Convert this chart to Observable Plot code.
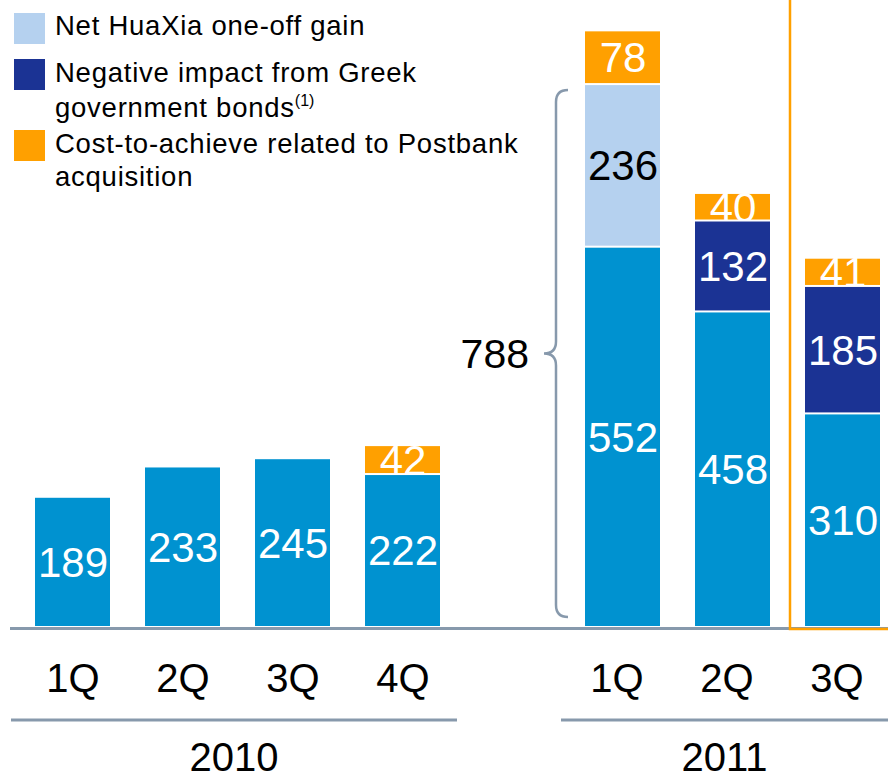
<!DOCTYPE html>
<html>
<head>
<meta charset="utf-8">
<script src="https://cdn.jsdelivr.net/npm/d3@7"></script>
<script src="https://cdn.jsdelivr.net/npm/@observablehq/plot@0.6"></script>
<style>
  html, body { margin: 0; padding: 0; background: #fff; }
  #wrap { position: relative; width: 888px; height: 780px; overflow: hidden;
          font-family: "Liberation Sans", Arial, sans-serif; }
  #chart { position: absolute; left: 0; top: 0; }
  #legend { position: absolute; left: 0; top: 0; width: 560px; height: 200px; }
  .sw { position: absolute; left: 14px; width: 31px; height: 31px; }
  .ln { position: absolute; left: 55px; font-size: 27.5px; line-height: 34px;
        letter-spacing: 0.75px; color: #000; white-space: nowrap; }
  .ln sup { font-size: 16px; letter-spacing: 0; vertical-align: 0; position: relative; top: -11px; }
</style>
</head>
<body>
<div id="wrap"><div id="chart"></div><div id="legend"></div></div>
<script>
// ---- data ----
const gapKey = "gap";
const periods = ["1Q 2010", "2Q 2010", "3Q 2010", "4Q 2010", gapKey, "1Q 2011", "2Q 2011", "3Q 2011"];
const ticks2010 = ["1Q 2010", "2Q 2010", "3Q 2010", "4Q 2010"];
const ticks2011 = ["1Q 2011", "2Q 2011", "3Q 2011"];
const years = ["2010", "2011"];
const coreValues     = [189, 233, 245, 222, null, 552, 458, 310];
const huaxiaValues   = [0,   0,   0,   0,   null, 236, 0,   0];
const greekValues    = [0,   0,   0,   0,   null, 0,   132, 185];
const postbankValues = [0,   0,   0,   42,  null, 78,  40,  41];
const seriesNames = ["Core", "Net HuaXia one-off gain",
  "Negative impact from Greek government bonds(1)",
  "Cost-to-achieve related to Postbank acquisition"];
const seriesColors = ["#0092d0", "#b5d1ef", "#1b3394", "#ffa000"];
const labelColors  = ["#ffffff", "#000000", "#ffffff", "#ffffff"];
const braceTotal = 788;          // 552 + 236
const highlightPeriod = "3Q 2011";
const yMax = 911.5;

// ---- build stacked segments ----
const seriesValues = [coreValues, huaxiaValues, greekValues, postbankValues];
const segments = [];
periods.forEach((p, i) => {
  if (p === gapKey) return;
  let base = 0;
  seriesValues.forEach((vals, s) => {
    const v = vals[i];
    if (!v) return;
    segments.push({period: p, series: s, value: v, y1: base, y2: base + v,
                   mid: base + v / 2, fill: seriesColors[s], label: labelColors[s]});
    base += v;
  });
});
const topSegs = segments.filter(d => d.series === 3);
const lowSegs = segments.filter(d => d.series !== 3);

const gray = "#8799ac";
const fontFamily = "'Liberation Sans', Arial, sans-serif";

function annotations(index, scales, values, dims) {
  const x = scales.x, y = scales.y;
  const bw = x.bandwidth ? x.bandwidth() : 75;
  const g = d3.create("svg:g").attr("font-family", fontFamily);
  // brace for 1Q 2011 core + HuaXia
  const bx = x("1Q 2011") - 29;
  const top = y(braceTotal) + 5, bot = y(0) - 11, mid = (top + bot) / 2;
  const r = 12;
  const p = d3.path();
  p.moveTo(bx + r, top);
  p.quadraticCurveTo(bx, top, bx, top + r);
  p.lineTo(bx, mid - r);
  p.quadraticCurveTo(bx, mid, bx - r, mid);
  p.quadraticCurveTo(bx, mid, bx, mid + r);
  p.lineTo(bx, bot - r);
  p.quadraticCurveTo(bx, bot, bx + r, bot);
  g.append("path").attr("d", p.toString()).attr("fill", "none")
    .attr("stroke", gray).attr("stroke-width", 2.5);
  g.append("text").attr("x", bx - r - 15).attr("y", mid).attr("dy", "0.36em")
    .attr("text-anchor", "end").attr("font-size", 41).attr("fill", "#000")
    .text(String(braceTotal));
  // year group lines + labels
  const groups = [ticks2010, ticks2011];
  const lineY = y(0) + 92;
  groups.forEach((ticks, k) => {
    const x1 = x(ticks[0]) - 24;
    const x2 = Math.min(x(ticks[ticks.length - 1]) + bw + 17, dims.width);
    g.append("line").attr("x1", x1).attr("x2", x2).attr("y1", lineY).attr("y2", lineY)
      .attr("stroke", gray).attr("stroke-width", 3);
    g.append("text").attr("x", (x1 + x2) / 2).attr("y", dims.height - 9)
      .attr("text-anchor", "middle").attr("font-size", 40).attr("fill", "#000")
      .text(years[k]);
  });
  return g.node();
}

const chart = Plot.plot({
  width: 888,
  height: 780,
  marginTop: 0,
  marginBottom: 152,
  marginLeft: 10,
  marginRight: 0,
  style: {fontFamily, background: "transparent"},
  x: {domain: periods, range: [33, 883], paddingInner: 0.318, paddingOuter: 0, axis: null},
  y: {domain: [0, yMax], axis: null},
  color: {type: "identity"},
  marks: [
    Plot.barY(topSegs, {x: "period", y1: "y1", y2: "y2", fill: "fill", insetBottom: 2}),
    Plot.text(topSegs, {x: "period", y: "mid", text: d => String(d.value), fill: "label", fontSize: 42}),
    Plot.barY(lowSegs, {x: "period", y1: "y1", y2: "y2", fill: "fill", insetBottom: 2}),
    Plot.text(lowSegs, {x: "period", y: "mid", text: d => String(d.value), fill: "label", fontSize: 42}),
    Plot.ruleY([0], {stroke: gray, strokeWidth: 3}),
    Plot.barY([{p: highlightPeriod, lo: 0, hi: yMax}], {x: "p", y1: "lo", y2: "hi", fill: "none",
      stroke: "#ffa000", strokeWidth: 2.5, insetLeft: -15, insetRight: -30, insetTop: -10, insetBottom: -1}),
    Plot.axisX(ticks2010, {tickSize: 0, tickPadding: 35, fontSize: 40, fill: "#000",
      tickFormat: d => d.split(" ")[0]}),
    Plot.axisX(ticks2011, {tickSize: 0, tickPadding: 35, fontSize: 40, fill: "#000", dx: -6,
      tickFormat: d => d.split(" ")[0]}),
    annotations
  ]
});
document.getElementById("chart").appendChild(chart);

// ---- legend (HTML overlay) ----
const legendItems = [
  {s: 1, swTop: 13, lines: [["Net HuaXia one-off gain", 36]]},
  {s: 2, swTop: 59, lines: [["Negative impact from Greek", 83], ["government bonds<sup>(1)</sup>", 118]]},
  {s: 3, swTop: 130, lines: [["Cost-to-achieve related to Postbank", 154], ["acquisition", 187]]}
];
const legend = document.getElementById("legend");
legendItems.forEach(item => {
  const sw = document.createElement("div");
  sw.className = "sw";
  sw.style.top = item.swTop + "px";
  sw.style.background = seriesColors[item.s];
  sw.title = seriesNames[item.s];
  legend.appendChild(sw);
  item.lines.forEach(([txt, baseline]) => {
    const d = document.createElement("div");
    d.className = "ln";
    d.style.top = (baseline - 26.6) + "px";
    d.innerHTML = txt;
    legend.appendChild(d);
  });
});
</script>
</body>
</html>
